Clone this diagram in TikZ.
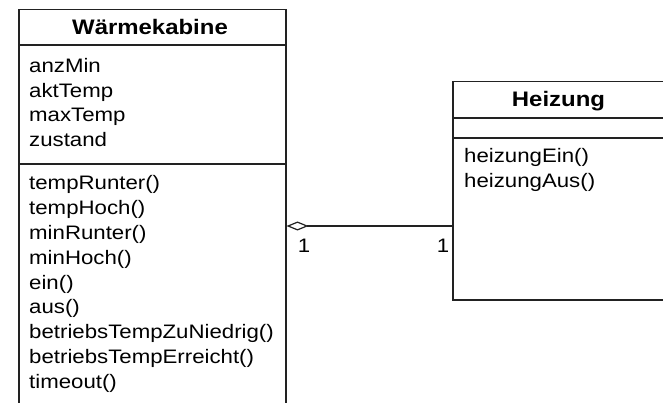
\documentclass[tikz,border=0pt]{standalone}
\usepackage{fontspec}
\setmainfont[FakeStretch=1.14]{Liberation Sans}
\usetikzlibrary{arrows.meta}
\definecolor{linec}{HTML}{222222}
\tikzset{
  box/.style={draw=linec, line width=1.5pt, inner sep=0pt, anchor=north west},
  sep/.style={draw=linec, line width=1.5pt},
  title/.style={font=\fontsize{21}{25}\selectfont\bfseries, anchor=base, inner sep=0pt, text=black},
  member/.style={font=\fontsize{19.5}{24}\selectfont, anchor=base west, inner sep=0pt, text=black},
  mult/.style={font=\fontsize{19.5}{24}\selectfont, anchor=base, inner sep=0pt, text=black},
  agg/.style={draw=linec, line width=1.2pt, {Diamond[open,length=22pt,width=9pt,fill=white]}-}
}
\begin{document}
\begin{tikzpicture}[x=1pt,y=-1pt]
\useasboundingbox (0,0) rectangle (663,403);
\clip (0,0) rectangle (663,403);
\fill[white] (0,0) rectangle (663,403);
% Waermekabine
\node[box, minimum width=267pt, minimum height=420pt] (wk) at (18,9) {};
\coordinate (wks1) at (0,45);
\coordinate (wks2) at (0,164);
\draw[sep] (wk.west |- wks1) -- (wk.east |- wks1);
\draw[sep] (wk.west |- wks2) -- (wk.east |- wks2);
\node[title] (wkt) at (150,34.5) {Wärmekabine};
\foreach \t [count=\i] in {anzMin,aktTemp,maxTemp,zustand}
  \node[member] (wka\i) at (29,{72.3+(\i-1)*24.8}) {\t};
\foreach \t [count=\i] in {tempRunter(),tempHoch(),minRunter(),minHoch(),ein(),aus(),betriebsTempZuNiedrig(),betriebsTempErreicht(),timeout()}
  \node[member] (wkm\i) at (29,{190+(\i-1)*24.75}) {\t};
% Heizung
\node[box, minimum width=240pt, minimum height=218pt] (hz) at (452,81) {};
\coordinate (hzs1) at (0,118);
\coordinate (hzs2) at (0,138);
\draw[sep] (hz.west |- hzs1) -- (hz.east |- hzs1);
\draw[sep] (hz.west |- hzs2) -- (hz.east |- hzs2);
\node[title] (hzt) at (558.5,106.7) {Heizung};
\node[member] (hzm1) at (464,162.7) {heizungEin()};
\node[member] (hzm2) at (464,187.4) {heizungAus()};
% Aggregation
\coordinate (j) at (0,226);
\draw[agg] (wk.east |- j) -- (hz.west |- j);
\node[mult] (m1) at (304,252.7) {1};
\node[mult] (m2) at (443,252.7) {1};
\end{tikzpicture}
\end{document}
